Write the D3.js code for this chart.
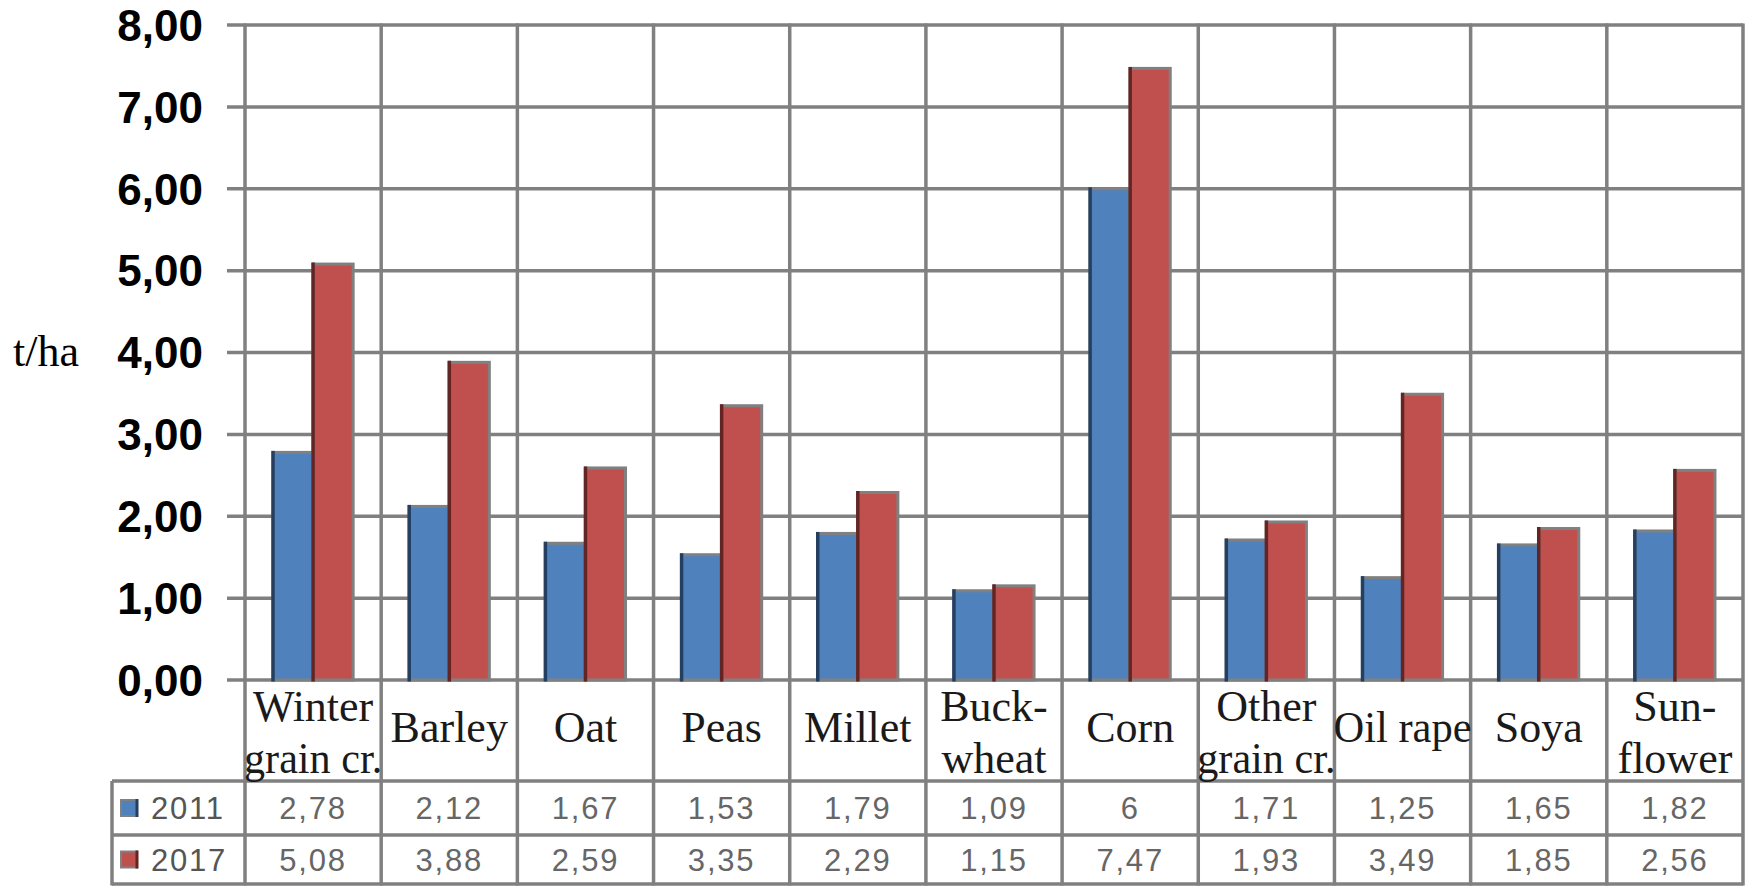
<!DOCTYPE html>
<html lang="en">
<head>
    <meta charset="UTF-8" />
    <title>Crop yields 2011 / 2017</title>
    <script src="https://d3js.org/d3.v7.js"></script>
    <style>
        body { margin: 0; background: #fff; }
    </style>
</head>
<body>
    <script>
        var w = 1750;
        var h = 887;

        // chart data
        var categories = ["Winter\ngrain cr.", "Barley", "Oat", "Peas", "Millet", "Buck-\nwheat",
            "Corn", "Other\ngrain cr.", "Oil rape", "Soya", "Sun-\nflower"];
        var series = ["2011", "2017"];
        var values2011 = [2.78, 2.12, 1.67, 1.53, 1.79, 1.09, 6, 1.71, 1.25, 1.65, 1.82];
        var values2017 = [5.08, 3.88, 2.59, 3.35, 2.29, 1.15, 7.47, 1.93, 3.49, 1.85, 2.56];
        var yTicks = [0, 1, 2, 3, 4, 5, 6, 7, 8];
        var yLabel = "t/ha";

        var colors = { "2011": "#4f81bd", "2017": "#c0504d" };
        var darkColors = { "2011": "#243f60", "2017": "#632523" };
        var seriesValues = { "2011": values2011, "2017": values2017 };

        var plotLeft = 245, plotRight = 1743, plotTop = 25, plotBottom = 680;
        var tableLeft = 112;
        var rowLines = [781, 835, 884]; // table rows: labels | 2011 | 2017
        var grid = "#808080";

        var xScale = d3.scaleBand()
            .domain(categories)
            .range([plotLeft, plotRight]);

        var xInner = d3.scaleBand()
            .domain(series)
            .range([0, xScale.bandwidth()])
            .paddingOuter(0.7);

        var yScale = d3.scaleLinear()
            .domain([0, 8])
            .range([plotBottom, plotTop]);

        var fmt = function (v) { return String(v).replace(".", ","); };
        var fmtTick = function (v) { return d3.format(".2f")(v).replace(".", ","); };

        var svg = d3.select("body")
            .append("svg")
            .attr("width", w)
            .attr("height", h);

        // horizontal gridlines + y tick labels
        svg.selectAll(".hgrid")
            .data(yTicks)
            .enter()
            .append("line")
            .attr("x1", 227)
            .attr("x2", plotRight)
            .attr("y1", function (d) { return yScale(d); })
            .attr("y2", function (d) { return yScale(d); })
            .attr("stroke", grid)
            .attr("stroke-width", 3.5);

        svg.selectAll(".ytick")
            .data(yTicks)
            .enter()
            .append("text")
            .attr("x", 203)
            .attr("y", function (d) { return yScale(d); })
            .attr("dy", "0.36em")
            .attr("text-anchor", "end")
            .attr("font-family", "Liberation Sans, Arial, sans-serif")
            .attr("font-weight", "bold")
            .attr("font-size", 44)
            .attr("fill", "#000")
            .text(fmtTick);

        svg.append("text")
            .attr("x", 13)
            .attr("y", 366)
            .attr("font-family", "Liberation Serif, Times New Roman, serif")
            .attr("font-size", 44)
            .attr("fill", "#000")
            .text(yLabel);

        // vertical lines (plot + table columns)
        var edges = categories.map(function (c) { return xScale(c); }).concat([plotRight]);
        svg.selectAll(".vgrid")
            .data(edges)
            .enter()
            .append("line")
            .attr("x1", function (d) { return d; })
            .attr("x2", function (d) { return d; })
            .attr("y1", plotTop - 1.5)
            .attr("y2", rowLines[2] + 1.5)
            .attr("stroke", grid)
            .attr("stroke-width", 3.5);

        // table lines
        svg.selectAll(".tline")
            .data(rowLines)
            .enter()
            .append("line")
            .attr("x1", tableLeft)
            .attr("x2", plotRight)
            .attr("y1", function (d) { return d; })
            .attr("y2", function (d) { return d; })
            .attr("stroke", grid)
            .attr("stroke-width", 3.5);

        svg.append("line")
            .attr("x1", tableLeft).attr("x2", tableLeft)
            .attr("y1", rowLines[0]).attr("y2", rowLines[2] + 1.5)
            .attr("stroke", grid)
            .attr("stroke-width", 3.5);

        // bars
        series.forEach(function (s) {
            var g = svg.append("g");
            var data = categories.map(function (c, i) { return { c: c, v: seriesValues[s][i] }; });

            g.selectAll("rect")
                .data(data)
                .enter()
                .append("rect")
                .attr("x", function (d) { return xScale(d.c) + xInner(s); })
                .attr("y", function (d) { return yScale(d.v); })
                .attr("width", xInner.bandwidth())
                .attr("height", function (d) { return yScale(0) - yScale(d.v); })
                .attr("fill", colors[s])
                .attr("stroke", grid)
                .attr("stroke-width", 3);

            g.selectAll("line")
                .data(data)
                .enter()
                .append("line")
                .attr("x1", function (d) { return xScale(d.c) + xInner(s); })
                .attr("x2", function (d) { return xScale(d.c) + xInner(s); })
                .attr("y1", function (d) { return yScale(d.v) - 1.5; })
                .attr("y2", yScale(0) + 1.5)
                .attr("stroke", darkColors[s])
                .attr("stroke-width", 3.5);
        });

        // category labels in the table
        var labels = svg.selectAll(".cat")
            .data(categories)
            .enter()
            .append("text")
            .attr("text-anchor", "middle")
            .attr("font-family", "Liberation Serif, Times New Roman, serif")
            .attr("font-size", 44)
            .attr("fill", "#1a1a1a")
            .attr("x", function (d) { return xScale(d) + xScale.bandwidth() / 2; })
            .attr("y", function (d) {
                return d.indexOf("\n") >= 0 ? 721 : 742;
            });

        var maxLen = xScale.bandwidth() + 2;
        labels.selectAll("tspan")
            .data(function (d) { return d.split("\n"); })
            .enter()
            .append("tspan")
            .attr("x", function () { return d3.select(this.parentNode).attr("x"); })
            .attr("dy", function (d, i) { return i === 0 ? 0 : 52; })
            .text(function (d) { return d; })
            .each(function () {
                // squeeze labels that are wider than their cell
                if (this.getComputedTextLength() > maxLen) {
                    d3.select(this)
                        .attr("textLength", maxLen)
                        .attr("lengthAdjust", "spacingAndGlyphs");
                }
            });

        // legend column + values
        series.forEach(function (s, si) {
            var cy = (rowLines[si] + rowLines[si + 1]) / 2;

            svg.append("rect")
                .attr("x", 121)
                .attr("y", cy - 8)
                .attr("width", 16)
                .attr("height", 16)
                .attr("fill", colors[s])
                .attr("stroke", grid)
                .attr("stroke-width", 2);

            svg.append("line")
                .attr("x1", 137).attr("x2", 137)
                .attr("y1", cy - 9).attr("y2", cy + 9)
                .attr("stroke", darkColors[s])
                .attr("stroke-width", 3);

            svg.append("text")
                .attr("x", 151)
                .attr("y", cy)
                .attr("dy", "0.36em")
                .attr("font-family", "Liberation Sans, Arial, sans-serif")
                .attr("font-size", 31)
                .attr("letter-spacing", 1.8)
                .attr("fill", "#555")
                .text(s);

            svg.selectAll(".val" + s)
                .data(seriesValues[s])
                .enter()
                .append("text")
                .attr("x", function (d, i) { return xScale(categories[i]) + xScale.bandwidth() / 2; })
                .attr("y", cy)
                .attr("dy", "0.36em")
                .attr("text-anchor", "middle")
                .attr("font-family", "Liberation Sans, Arial, sans-serif")
                .attr("font-size", 31)
                .attr("letter-spacing", 1.8)
                .attr("fill", "#666")
                .text(fmt);
        });
    </script>
</body>
</html>
